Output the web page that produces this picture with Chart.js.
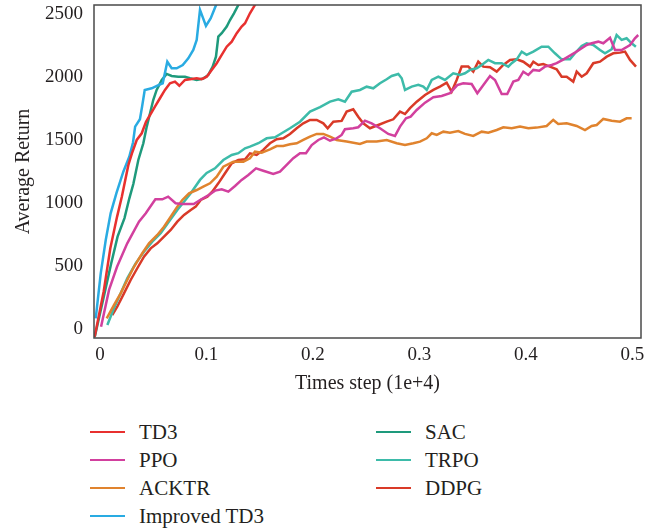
<!DOCTYPE html>
<html>
<head>
<meta charset="utf-8">
<script src="https://cdn.jsdelivr.net/npm/chart.js@4.4.1/dist/chart.umd.min.js"></script>
<style>
  body { margin: 0; background: #fff; width: 661px; height: 531px; overflow: hidden; position: relative; font-family: "Liberation Serif", "DejaVu Serif", serif; color: #231f20; }
  #chart { position: absolute; left: 0; top: 0; }
  #legend { position: absolute; left: 90px; top: 418px; display: grid; grid-template-columns: 286px 220px; grid-template-rows: repeat(4, 28px); grid-auto-flow: column; }
  .item { display: flex; align-items: center; font-size: 21px; white-space: nowrap; }
  .swatch { width: 35px; height: 2px; margin-right: 14px; }
</style>
</head>
<body>
<canvas id="chart" width="661" height="400"></canvas>
<div id="legend"></div>
<script>
// x = time step (1e+4), y = average return
const improvedTd3 = [[-0.004,85],[0.0007,442],[0.0054,706],[0.01,918],[0.0155,1080],[0.022,1250],[0.0275,1367],[0.031,1480],[0.033,1606],[0.0375,1665],[0.0395,1764],[0.042,1897],[0.0485,1910],[0.0554,1937],[0.0589,1950],[0.0632,2121],[0.0673,2069],[0.072,2069],[0.0777,2095],[0.0829,2148],[0.0876,2214],[0.0908,2294],[0.0939,2532],[0.0995,2405],[0.104,2466],[0.109,2571],[0.113,2660]];
const td3 = [[-0.005,-61],[0.0035,300],[0.0097,640],[0.016,890],[0.0205,1050],[0.0266,1300],[0.03,1394],[0.0345,1500],[0.0392,1553],[0.0432,1645],[0.047,1698],[0.0516,1764],[0.0563,1831],[0.061,1897],[0.0657,1950],[0.0704,1963],[0.0745,1930],[0.0798,1976],[0.0845,1982],[0.0908,1990],[0.0955,1982],[0.1002,2002],[0.1049,2056],[0.1096,2109],[0.1143,2175],[0.119,2240],[0.1237,2280],[0.1284,2347],[0.133,2400],[0.1362,2426],[0.1408,2505],[0.1455,2571],[0.149,2630]];
const sac = [[-0.005,-65],[0.0035,255],[0.0105,520],[0.0165,733],[0.023,880],[0.0275,1035],[0.0313,1150],[0.036,1341],[0.0407,1474],[0.0439,1606],[0.047,1712],[0.05,1817],[0.0532,1897],[0.058,1976],[0.0626,2024],[0.0673,2008],[0.0735,2002],[0.0798,2002],[0.0845,1990],[0.0908,1976],[0.097,1987],[0.1017,2016],[0.1058,2082],[0.1089,2161],[0.1111,2320],[0.1143,2347],[0.119,2400],[0.1221,2452],[0.1258,2505],[0.1299,2571],[0.133,2620]];
const ppo = [[0.001,18],[0.0085,310],[0.016,494],[0.0256,680],[0.0366,852],[0.043,918],[0.052,1029],[0.0585,1029],[0.064,1050],[0.071,998],[0.077,992],[0.088,992],[0.094,1024],[0.1008,1056],[0.108,1098],[0.1143,1109],[0.1205,1090],[0.1268,1135],[0.133,1183],[0.1393,1222],[0.1465,1275],[0.1533,1256],[0.1627,1230],[0.169,1248],[0.1753,1302],[0.1815,1355],[0.1878,1394],[0.1934,1394],[0.1988,1460],[0.205,1500],[0.2103,1521],[0.216,1494],[0.2222,1513],[0.2269,1540],[0.23,1585],[0.2378,1593],[0.2425,1601],[0.2488,1653],[0.2551,1632],[0.2629,1593],[0.2707,1548],[0.277,1532],[0.2817,1606],[0.2873,1672],[0.2917,1685],[0.2974,1738],[0.3052,1796],[0.313,1839],[0.3208,1849],[0.3286,1871],[0.3355,1935],[0.3411,1950],[0.349,1944],[0.3543,1871],[0.36,1937],[0.3662,2008],[0.3709,1976],[0.3772,1865],[0.3824,1865],[0.3881,1963],[0.3928,1976],[0.3975,2042],[0.4022,2016],[0.4069,2056],[0.4125,2050],[0.4178,2082],[0.4241,2095],[0.4288,2109],[0.4345,2135],[0.4397,2161],[0.446,2193],[0.4523,2228],[0.457,2254],[0.4617,2267],[0.4679,2280],[0.4726,2267],[0.4789,2310],[0.4836,2214],[0.4898,2214],[0.4977,2254],[0.5023,2307],[0.5054,2333]];
const acktr = [[0.0063,85],[0.0131,190],[0.0194,283],[0.0256,389],[0.0319,494],[0.0397,601],[0.046,680],[0.0538,746],[0.0601,812],[0.0664,891],[0.0726,971],[0.0773,1024],[0.0836,1077],[0.0908,1103],[0.097,1129],[0.1033,1156],[0.1096,1209],[0.1158,1288],[0.1252,1328],[0.1346,1328],[0.1408,1355],[0.1455,1407],[0.1518,1399],[0.1596,1426],[0.1659,1452],[0.1721,1452],[0.1784,1466],[0.1847,1474],[0.1909,1500],[0.1972,1526],[0.2035,1548],[0.2097,1548],[0.216,1526],[0.2222,1500],[0.2316,1487],[0.2441,1468],[0.2504,1487],[0.2598,1487],[0.2692,1500],[0.2786,1474],[0.2864,1460],[0.2942,1474],[0.3005,1487],[0.3068,1513],[0.3115,1553],[0.3162,1540],[0.3224,1566],[0.3286,1558],[0.3364,1571],[0.3427,1548],[0.3505,1532],[0.3584,1566],[0.3646,1558],[0.3725,1579],[0.3787,1601],[0.3866,1593],[0.3944,1606],[0.4022,1593],[0.41,1598],[0.4194,1611],[0.4256,1659],[0.4303,1627],[0.4382,1632],[0.4476,1611],[0.4554,1579],[0.4617,1611],[0.4664,1619],[0.4726,1667],[0.4805,1653],[0.4883,1645],[0.4945,1672],[0.4992,1672]];
const trpo = [[0.0069,32],[0.0131,164],[0.0194,283],[0.0256,402],[0.0335,521],[0.0413,613],[0.0491,693],[0.057,760],[0.0648,852],[0.0726,944],[0.0789,1010],[0.0852,1077],[0.0939,1183],[0.1002,1238],[0.108,1275],[0.1158,1341],[0.1237,1381],[0.1299,1395],[0.1362,1434],[0.1408,1447],[0.1487,1474],[0.1565,1513],[0.1643,1521],[0.1706,1553],[0.1784,1593],[0.1878,1645],[0.1972,1725],[0.2066,1760],[0.216,1804],[0.2238,1823],[0.23,1804],[0.2363,1883],[0.2441,1897],[0.2504,1923],[0.2566,1910],[0.2629,1950],[0.2692,1982],[0.2739,2008],[0.2801,2024],[0.2833,1990],[0.2864,1897],[0.2927,1923],[0.2989,1937],[0.3036,1923],[0.3068,1897],[0.3115,1976],[0.3177,2002],[0.3239,1976],[0.3317,2029],[0.338,2016],[0.3427,2029],[0.3474,2056],[0.3537,2069],[0.3584,2095],[0.3646,2135],[0.3709,2109],[0.3772,2109],[0.3834,2082],[0.3866,2109],[0.3913,2140],[0.396,2201],[0.4006,2175],[0.4069,2201],[0.4147,2240],[0.421,2240],[0.4272,2188],[0.4335,2140],[0.4413,2140],[0.446,2188],[0.4523,2246],[0.457,2267],[0.4632,2254],[0.4695,2214],[0.4742,2188],[0.4805,2220],[0.4851,2333],[0.4898,2294],[0.4945,2307],[0.4992,2267],[0.5032,2240]];
const ddpg = [[0.0115,111],[0.0162,177],[0.0225,283],[0.0288,389],[0.035,482],[0.0413,574],[0.0476,640],[0.0538,680],[0.0601,733],[0.0664,786],[0.0726,852],[0.0789,905],[0.0852,944],[0.0899,971],[0.0946,1024],[0.1008,1050],[0.1054,1090],[0.1111,1156],[0.1174,1236],[0.1237,1315],[0.1299,1341],[0.1362,1347],[0.1408,1394],[0.1471,1381],[0.1533,1421],[0.1596,1474],[0.1659,1506],[0.1721,1513],[0.1784,1548],[0.1847,1593],[0.1909,1632],[0.1972,1659],[0.2035,1659],[0.2097,1632],[0.2138,1593],[0.2191,1645],[0.2269,1651],[0.2316,1725],[0.2378,1744],[0.2425,1685],[0.2472,1632],[0.2535,1593],[0.2613,1619],[0.2692,1645],[0.2754,1664],[0.2817,1725],[0.2864,1706],[0.2911,1752],[0.2974,1804],[0.3052,1857],[0.313,1897],[0.3192,1923],[0.3255,1955],[0.3302,1883],[0.3349,1976],[0.3396,2082],[0.3458,2082],[0.3505,2042],[0.3552,2121],[0.3599,2082],[0.3662,2077],[0.3725,2042],[0.3787,2095],[0.385,2135],[0.3913,2140],[0.3975,2121],[0.4038,2082],[0.4069,2121],[0.4116,2095],[0.4162,2103],[0.4225,2082],[0.4288,2061],[0.4335,2002],[0.4382,2002],[0.4444,1963],[0.4476,2042],[0.4523,2002],[0.457,2029],[0.4632,2109],[0.4695,2121],[0.4758,2161],[0.482,2188],[0.4883,2193],[0.493,2201],[0.4977,2135],[0.5033,2082]];

const xTicks = [0, 0.1, 0.2, 0.3, 0.4, 0.5];
const xTickLabels = ['0', '0.1', '0.2', '0.3', '0.4', '0.5'];
const yTicks = [0, 500, 1000, 1500, 2000, 2500];
const yTickLabels = ['0', '500', '1000', '1500', '2000', '2500'];

const seriesNames = ['TD3', 'PPO', 'ACKTR', 'Improved TD3', 'SAC', 'TRPO', 'DDPG'];
const seriesData = [td3, ppo, acktr, improvedTd3, sac, trpo, ddpg];
const seriesColors = ['#e8302f', '#d2409e', '#e0832e', '#29abe2', '#1e9a7c', '#3dbba9', '#d93a28'];

const textColor = '#231f20';
const serif = '"Liberation Serif", "DejaVu Serif", serif';

// draws the box round the plot area
const framePlugin = {
    id: 'frame',
    afterDraw(chart) {
        const { ctx, chartArea: a } = chart;
        ctx.save();
        ctx.strokeStyle = '#4a4a4a';
        ctx.lineWidth = 1.5;
        ctx.strokeRect(a.left, a.top, a.right - a.left, a.bottom - a.top);
        ctx.restore();
    }
};

const datasets = seriesData.map((pts, i) => ({
    label: seriesNames[i],
    data: pts.map(([x, y]) => ({ x, y })),
    borderColor: seriesColors[i],
    backgroundColor: seriesColors[i],
    borderWidth: 2.5,
    pointRadius: 0,
    tension: 0,
    fill: false
}));

new Chart(document.getElementById('chart').getContext('2d'), {
    type: 'line',
    data: { datasets },
    options: {
        responsive: false,
        animation: false,
        layout: { padding: { top: 5, right: 20, left: 0, bottom: 0 } },
        plugins: { legend: { display: false }, tooltip: { enabled: false } },
        scales: {
            x: {
                type: 'linear',
                min: -0.00563,
                max: 0.508,
                grid: { display: false, drawTicks: false },
                border: { display: false },
                afterBuildTicks: s => { s.ticks = xTicks.map(v => ({ value: v })); },
                afterFit: s => { s.height = 62; s.paddingLeft = 0; s.paddingRight = 0; },
                ticks: {
                    padding: 6,
                    color: textColor,
                    font: { family: serif, size: 19 },
                    maxRotation: 0,
                    callback: (v, i) => xTickLabels[i]
                },
                title: {
                    display: true,
                    text: 'Times step (1e+4)',
                    color: textColor,
                    font: { family: serif, size: 20 },
                    padding: { top: 0, bottom: 4 }
                }
            },
            y: {
                type: 'linear',
                min: -71.4,
                max: 2571,
                grid: { display: false, drawTicks: false },
                border: { display: false },
                afterBuildTicks: s => { s.ticks = yTicks.map(v => ({ value: v })); },
                afterFit: s => { s.width = 94; s.paddingTop = 0; s.paddingBottom = 0; },
                ticks: {
                    padding: 11,
                    color: textColor,
                    font: { family: serif, size: 19 },
                    callback: (v, i) => yTickLabels[i]
                },
                title: {
                    display: true,
                    text: 'Average Return',
                    color: textColor,
                    font: { family: serif, size: 20 },
                    padding: { top: 12, bottom: 0 }
                }
            }
        }
    },
    plugins: [framePlugin]
});

// legend in two columns under the chart
const legend = document.getElementById('legend');
seriesNames.forEach((name, i) => {
    const item = document.createElement('div');
    item.className = 'item';
    item.innerHTML = `<span class="swatch" style="background:${seriesColors[i]}"></span><span>${name}</span>`;
    legend.appendChild(item);
});
</script>
</body>
</html>
